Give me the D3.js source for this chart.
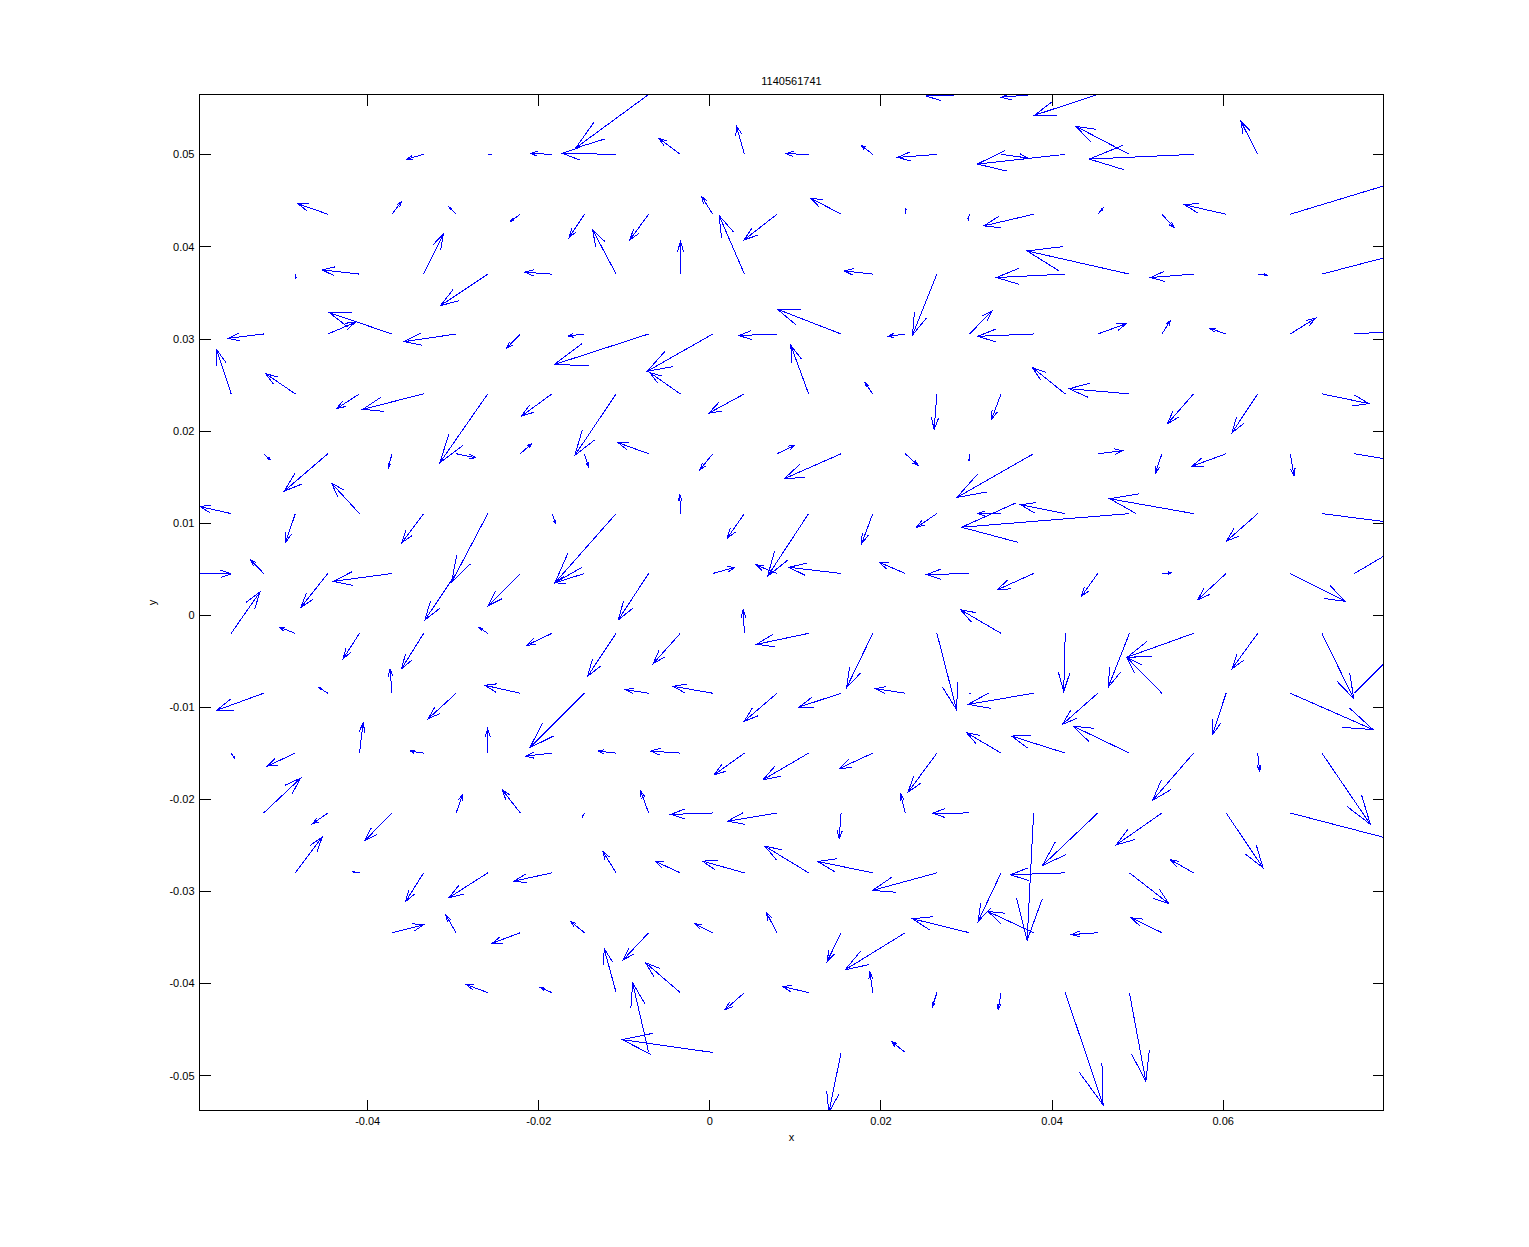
<!DOCTYPE html>
<html>
<head>
<meta charset="utf-8">
<script src="https://cdn.jsdelivr.net/npm/d3@7"></script>
<style>
  body { margin: 0; background: #fff; }
  svg { display: block; font-family: "Liberation Sans", Arial, Helvetica, sans-serif; }
</style>
</head>
<body>
<script>
var title = '1140561741';
var xLim = [-0.0596, 0.0788];
var yLim = [-0.0538, 0.0565];
var xTicks = [-0.04, -0.02, 0, 0.02, 0.04, 0.06];
var yTicks = [-0.05, -0.04, -0.03, -0.02, -0.01, 0, 0.01, 0.02, 0.03, 0.04, 0.05];

// y of each grid row (hex grid, top to bottom)
var rowY = [0.0565, 0.0500, 0.0435, 0.0370, 0.0305, 0.0240, 0.0175, 0.0110,
  0.0045, -0.0020, -0.0085, -0.0150, -0.0215, -0.0280, -0.0345, -0.0410, -0.0475];

// vectors per row: [x, u, v]  (u, v already scaled to axis units)
var row00 = [[-0.0071, -0.00853, -0.00581], [0.0304, -0.00506, -0.00016], [0.0379, -0.00376, -0.0003],
  [0.0454, -0.00741, -0.00226]];
var row01 = [[-0.0334, -0.00195, -0.00051], [-0.0259, 0.00033, 0], [-0.0184, -0.0025, 0.00011],
  [-0.0109, -0.0063, 0.00011], [-0.0034, -0.00251, 0.00174], [0.0041, -0.00097, 0.00315],
  [0.0116, -0.00263, 0.00007], [0.0191, -0.00137, 0.00098], [0.0266, -0.00459, -0.00033],
  [0.0341, 0.00318, -0.0004], [0.0416, -0.01028, -0.00105], [0.0491, -0.00625, 0.00304],
  [0.0566, -0.0122, -0.00051], [0.0641, -0.00197, 0.00358]];
var row02 = [[-0.0446, -0.00347, 0.00113], [-0.0371, 0.00113, 0.00139], [-0.0296, -0.00081, 0.00077],
  [-0.0221, -0.00118, -0.00078], [-0.0146, -0.00179, -0.00252], [-0.0071, -0.00219, -0.00278],
  [0.0004, -0.00131, 0.00193], [0.0079, -0.00383, -0.00278], [0.0154, -0.00354, 0.00175],
  [0.0229, 0.00006, 0.00066], [0.0304, -0.00015, -0.0007], [0.0379, -0.00582, -0.00126],
  [0.0454, 0.00062, 0.00066], [0.0529, 0.00141, -0.00143], [0.0604, -0.00483, 0.00102],
  [0.0679, 0.01747, 0.00492]];
var row03 = [[-0.0484, 0.00007, -0.00045], [-0.0409, -0.00436, 0.00046], [-0.0334, 0.00229, 0.00433],
  [-0.0259, -0.00552, -0.00341], [-0.0184, -0.00317, 0.00021], [-0.0109, -0.00276, 0.00484],
  [-0.0034, 0.00004, 0.00354], [0.0041, -0.00296, 0.00636], [0.0191, -0.00334, 0.00035],
  [0.0266, -0.00285, -0.0066], [0.0416, -0.00804, -0.00037], [0.0491, -0.01196, 0.00252],
  [0.0566, -0.00504, -0.00037], [0.0641, 0.00113, -0.00012], [0.0716, 0.01201, 0.00292]];
var row04 = [[-0.0521, -0.00414, -0.00047], [-0.0446, 0.00317, 0.00124], [-0.0371, -0.00733, 0.00232],
  [-0.0296, -0.00607, -0.00083], [-0.0221, -0.0016, -0.00155], [-0.0146, -0.00191, -0.00022],
  [-0.0071, -0.01103, -0.00332], [0.0004, -0.00767, -0.00405], [0.0079, -0.00445, -0.00017],
  [0.0154, -0.00743, 0.00268], [0.0229, -0.00201, -0.00025], [0.0304, 0.00262, 0.00247],
  [0.0379, -0.00652, -0.00025], [0.0454, 0.00335, 0.00113], [0.0529, 0.00099, 0.00146],
  [0.0604, -0.00191, 0.00062], [0.0679, 0.00295, 0.00171], [0.0754, 0.00705, 0.00045]];
var row05 = [[-0.0559, -0.00169, 0.0048], [-0.0484, -0.00347, 0.00219], [-0.0409, -0.00268, -0.00161],
  [-0.0334, -0.00713, -0.00168], [-0.0259, -0.0056, -0.00747], [-0.0184, -0.00355, -0.00241],
  [-0.0109, -0.00483, -0.00668], [-0.0034, -0.00355, 0.0023], [0.0041, -0.00416, -0.00209],
  [0.0116, -0.00208, 0.00527], [0.0191, -0.00092, 0.00122], [0.0266, -0.00033, -0.00386],
  [0.0341, -0.00112, -0.00277], [0.0416, -0.00383, 0.00285], [0.0491, -0.00705, 0.00056],
  [0.0566, -0.00305, -0.00324], [0.0641, -0.003, -0.00421], [0.0716, 0.0055, -0.00106]];
var row06 = [[-0.0521, 0.00077, -0.00065], [-0.0446, -0.0051, -0.00406], [-0.0371, -0.00043, -0.00156],
  [-0.0296, 0.00228, -0.00043], [-0.0221, 0.00132, 0.00109], [-0.0146, 0.00043, -0.00135],
  [-0.0071, -0.00355, 0.00119], [0.0004, -0.00151, -0.00174], [0.0079, 0.00209, 0.0009],
  [0.0154, -0.00666, -0.00272], [0.0229, 0.0015, -0.00127], [0.0304, -0.00004, -0.0008],
  [0.0379, -0.00898, -0.00475], [0.0454, 0.00289, 0.00033], [0.0529, -0.00076, -0.00211],
  [0.0604, -0.00404, -0.00138], [0.0679, 0.00044, -0.00243], [0.0754, 0.00705, -0.0011]];
var row07 = [[-0.0559, -0.00365, 0.00077], [-0.0484, -0.00113, -0.00311], [-0.0409, -0.00326, 0.0033],
  [-0.0334, -0.00257, -0.00317], [-0.0259, -0.00423, -0.00745], [-0.0184, 0.00046, -0.00111],
  [-0.0109, -0.00716, -0.00752], [-0.0034, -0.00005, 0.00204], [0.0041, -0.00202, -0.00267],
  [0.0116, -0.0048, -0.0068], [0.0191, -0.00131, -0.00328], [0.0266, -0.00238, -0.00148],
  [0.0341, -0.00272, 0], [0.0416, -0.0052, 0.00096], [0.0491, -0.01962, -0.00148],
  [0.0566, -0.00979, 0.00161], [0.0641, -0.00366, -0.003], [0.0716, 0.01143, -0.00136]];
var row08 = [[-0.0596, 0.00368, -0.00004], [-0.0521, -0.00152, 0.00148], [-0.0446, -0.00314, -0.00367],
  [-0.0371, -0.00686, -0.00085], [-0.0296, -0.00365, -0.00504], [-0.0221, -0.00375, -0.00349],
  [-0.0146, -0.00346, -0.00102], [-0.0071, -0.00355, -0.00504], [0.0004, 0.00258, 0.00067],
  [0.0079, -0.00247, 0.00093], [0.0154, -0.00611, 0.00067], [0.0229, -0.00306, 0.00122],
  [0.0304, -0.00501, -0.00012], [0.0379, -0.00427, -0.00178], [0.0454, -0.00191, -0.00248],
  [0.0529, 0.00111, 0.00007], [0.0604, -0.00334, -0.00287], [0.0679, 0.00645, -0.00302],
  [0.0754, 0.00705, 0.00386]];
var row09 = [[-0.0559, 0.00337, 0.00449], [-0.0484, -0.00188, 0.00068], [-0.0409, -0.00191, -0.00275],
  [-0.0334, -0.00257, -0.00383], [-0.0259, -0.001, 0.00062], [-0.0184, -0.00297, -0.0013],
  [-0.0109, -0.00334, -0.00467], [-0.0034, -0.00317, -0.00329], [0.0041, -0.00015, 0.00257],
  [0.0116, -0.00609, -0.00119], [0.0191, -0.00306, -0.0059], [0.0266, 0.00229, -0.00829],
  [0.0341, -0.00474, 0.00257], [0.0416, -0.00018, -0.0063], [0.0491, -0.00249, -0.00587],
  [0.0566, -0.00772, -0.00257], [0.0641, -0.003, -0.00383], [0.0716, 0.00372, -0.00709]];
var row10 = [[-0.0521, -0.00549, -0.00186], [-0.0446, -0.00104, 0.00061], [-0.0371, -0.00023, 0.00267],
  [-0.0296, -0.00326, -0.00276], [-0.0221, -0.00414, 0.00086], [-0.0146, -0.00638, -0.00591],
  [-0.0071, -0.00269, 0.00039], [0.0004, -0.00463, 0.00075], [0.0079, -0.00383, -0.00305],
  [0.0154, -0.00491, -0.0015], [0.0229, -0.00348, 0.0005], [0.0304, 0.0001, 0],
  [0.0379, -0.00765, -0.00121], [0.0454, -0.00413, -0.00338], [0.0529, -0.00415, 0.00393],
  [0.0604, -0.00159, -0.0045], [0.0679, 0.00968, -0.00395], [0.0754, 0.00705, 0.00655]];
var row11 = [[-0.0559, 0.00039, -0.00054], [-0.0484, -0.00328, -0.00141], [-0.0409, 0.00043, 0.0033],
  [-0.0334, -0.0016, 0.00022], [-0.0259, -0.00002, 0.00265], [-0.0184, -0.00309, -0.00033],
  [-0.0109, -0.0021, 0.00022], [-0.0034, -0.00347, 0.00022], [0.0041, -0.00354, -0.00235],
  [0.0116, -0.00532, -0.00289], [0.0191, -0.00393, -0.00169], [0.0266, -0.00337, -0.00424],
  [0.0341, -0.00404, 0.00222], [0.0416, -0.00629, 0.00185], [0.0491, -0.00658, 0.00293],
  [0.0566, -0.0048, -0.00514], [0.0641, 0.00023, -0.00199], [0.0716, 0.00567, -0.00774]];
var row12 = [[-0.0521, 0.00432, 0.00378], [-0.0446, -0.00178, -0.00117], [-0.0371, -0.00316, -0.00299],
  [-0.0296, 0.00076, 0.00201], [-0.0221, -0.00212, 0.00252], [-0.0146, -0.00019, -0.00038],
  [-0.0071, -0.00093, 0.00237], [0.0004, -0.0049, -0.00016], [0.0079, -0.00577, -0.00089],
  [0.0154, -0.00023, -0.0028], [0.0229, -0.00056, 0.00209], [0.0304, -0.00431, -0.00002],
  [0.0379, -0.00076, -0.01385], [0.0454, -0.00646, -0.0057], [0.0529, -0.00532, -0.00345],
  [0.0604, 0.00432, -0.00595], [0.0679, 0.01747, -0.00423]];
var row13 = [[-0.0484, 0.00314, 0.00388], [-0.0409, -0.00081, 0.00015], [-0.0334, -0.0021, -0.00311],
  [-0.0259, -0.00455, -0.0027], [-0.0184, -0.00442, -0.0009], [-0.0109, -0.00155, 0.00232],
  [-0.0034, -0.00297, 0.00127], [0.0041, -0.0049, 0.00127], [0.0116, -0.00512, 0.0029],
  [0.0191, -0.00645, 0.00124], [0.0266, -0.00753, -0.00191], [0.0341, -0.00269, -0.00528],
  [0.0416, -0.0064, -0.00021], [0.0491, 0.00464, -0.00336], [0.0566, -0.0027, 0.00142]];
var row14 = [[-0.0371, 0.0037, 0.00086], [-0.0296, -0.00119, 0.00187], [-0.0221, -0.00328, -0.00114],
  [-0.0146, -0.00162, 0.00122], [-0.0071, -0.00297, -0.00294], [0.0004, -0.00209, 0.00097],
  [0.0079, -0.00122, 0.00216], [0.0154, -0.00164, -0.00313], [0.0229, -0.00704, -0.00403],
  [0.0304, -0.00665, 0.00151], [0.0379, -0.00532, 0.0023], [0.0454, -0.00307, -0.0002],
  [0.0529, -0.00356, 0.00162]];
var row15 = [[-0.0259, -0.00248, 0.00085], [-0.0184, -0.00133, 0.00052], [-0.0109, -0.0014, 0.00476],
  [-0.0034, -0.00406, 0.00324], [0.0041, -0.00229, -0.00187], [0.0116, -0.00305, 0.00066],
  [0.0191, -0.00034, 0.00222], [0.0266, -0.00056, -0.00159], [0.0341, -0.00035, -0.00187],
  [0.0416, 0.00442, -0.01219], [0.0491, 0.00192, -0.00962]];
var row16 = [[-0.0071, -0.00187, 0.00756], [0.0004, -0.01059, 0.0014], [0.0154, -0.00144, -0.00653],
  [0.0229, -0.00161, 0.00118]];

var rows = [row00, row01, row02, row03, row04, row05, row06, row07, row08,
  row09, row10, row11, row12, row13, row14, row15, row16];

var svgWidth = 1529, svgHeight = 1247;
var plot = { left: 199.5, right: 1383.5, top: 94.5, bottom: 1110.5 };
var tickLen = 11;

var svg = d3.select('body').append('svg')
  .attr('width', svgWidth)
  .attr('height', svgHeight);

svg.append('rect')
  .attr('width', svgWidth)
  .attr('height', svgHeight)
  .attr('fill', '#fff');

var x = d3.scaleLinear().domain(xLim).range([plot.left, plot.right]);
var y = d3.scaleLinear().domain(yLim).range([plot.bottom, plot.top]);

// flatten rows into vector records
var vectors = [];
rows.forEach(function (row, i) {
  row.forEach(function (d) {
    vectors.push({ x: d[0], y: rowY[i], u: d[1], v: d[2] });
  });
});

svg.append('clipPath')
  .attr('id', 'plot-clip')
  .append('rect')
  .attr('x', plot.left)
  .attr('y', plot.top)
  .attr('width', plot.right - plot.left)
  .attr('height', plot.bottom - plot.top);

// quiver arrows, head shape as in matlab (alpha = beta = 0.33)
var alpha = 0.33, beta = 0.33;
function arrowPath(d) {
  var tx = d.x + d.u, ty = d.y + d.v;
  var h1x = tx - alpha * (d.u + beta * d.v);
  var h1y = ty - alpha * (d.v - beta * d.u);
  var h2x = tx - alpha * (d.u - beta * d.v);
  var h2y = ty - alpha * (d.v + beta * d.u);
  return 'M' + x(d.x) + ',' + y(d.y) + 'L' + x(tx) + ',' + y(ty) +
    'M' + x(h1x) + ',' + y(h1y) + 'L' + x(tx) + ',' + y(ty) + 'L' + x(h2x) + ',' + y(h2y);
}

svg.append('g')
  .attr('clip-path', 'url(#plot-clip)')
  .selectAll('path')
  .data(vectors)
  .enter()
  .append('path')
    .attr('d', arrowPath)
    .attr('fill', 'none')
    .attr('stroke', '#0000ff')
    .attr('stroke-width', 1)
    .attr('shape-rendering', 'crispEdges');

// axes, matlab style: ticks inside on all four sides
function fmt(d) {
  return d === 0 ? '0' : d.toFixed(2);
}

function styleAxis(g) {
  g.attr('shape-rendering', 'crispEdges');
  g.select('.domain').remove();
  g.selectAll('line').attr('stroke', '#000');
  g.selectAll('text')
    .attr('fill', '#000')
    .style('font-size', '11px')
    .style('font-family', '"Liberation Sans", Arial, Helvetica, sans-serif');
}

svg.append('g')
  .attr('transform', 'translate(0,' + plot.bottom + ')')
  .call(d3.axisBottom(x).tickValues(xTicks).tickSize(-tickLen).tickPadding(7).tickFormat(fmt))
  .call(styleAxis);

svg.append('g')
  .attr('transform', 'translate(0,' + plot.top + ')')
  .call(d3.axisTop(x).tickValues(xTicks).tickSize(-tickLen).tickFormat(''))
  .call(styleAxis);

svg.append('g')
  .attr('transform', 'translate(' + plot.left + ',0)')
  .call(d3.axisLeft(y).tickValues(yTicks).tickSize(-tickLen).tickPadding(5).tickFormat(fmt))
  .call(styleAxis);

svg.append('g')
  .attr('transform', 'translate(' + plot.right + ',0)')
  .call(d3.axisRight(y).tickValues(yTicks).tickSize(-tickLen).tickFormat(''))
  .call(styleAxis);

// box
svg.append('rect')
  .attr('x', plot.left)
  .attr('y', plot.top)
  .attr('width', plot.right - plot.left)
  .attr('height', plot.bottom - plot.top)
  .attr('fill', 'none')
  .attr('stroke', '#000')
  .attr('shape-rendering', 'crispEdges');

// title and labels
svg.append('text')
  .attr('x', (plot.left + plot.right) / 2)
  .attr('y', 85)
  .attr('text-anchor', 'middle')
  .style('font-size', '11px')
  .text(title);

svg.append('text')
  .attr('x', (plot.left + plot.right) / 2)
  .attr('y', 1141)
  .attr('text-anchor', 'middle')
  .style('font-size', '11px')
  .text('x');

svg.append('text')
  .attr('transform', 'translate(156,' + ((plot.top + plot.bottom) / 2) + ') rotate(-90)')
  .attr('text-anchor', 'middle')
  .style('font-size', '11px')
  .text('y');
</script>
</body>
</html>
